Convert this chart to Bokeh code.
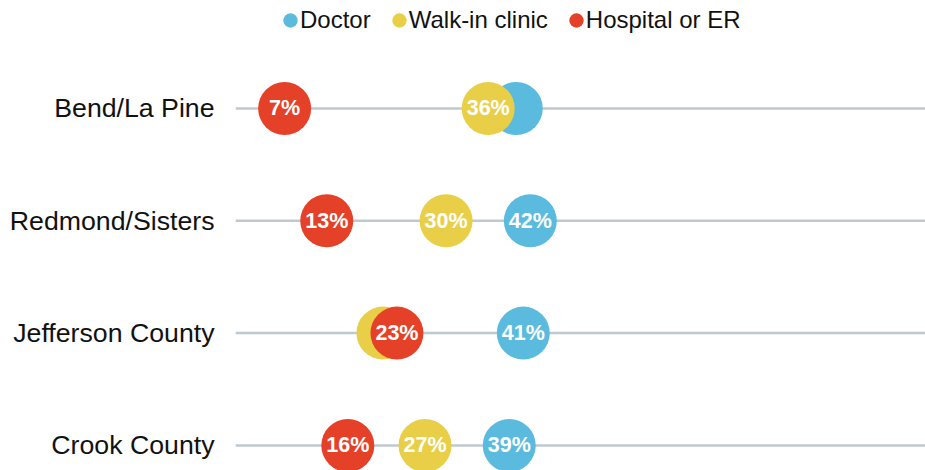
from bokeh.plotting import figure
from bokeh.models import ColumnDataSource, Range1d, FixedTicker, Legend, LegendItem
from bokeh.core.properties import value
from bokeh.embed import file_html
from bokeh.resources import INLINE

# ---- data ----
regions = ["Bend/La Pine", "Redmond/Sisters", "Jefferson County", "Crook County"]
series = ["Doctor", "Walk-in clinic", "Hospital or ER"]
doctor = [40, 42, 41, 39]
walk_in = [36, 30, 21, 27]
hospital = [7, 13, 23, 16]
# labels hidden where the dot is covered by another
doctor_show = [False, True, True, True]
walk_in_show = [True, True, False, True]
hospital_show = [True, True, True, True]
colors = ["#5BBBDE", "#E9CF48", "#E54028"]

FONT = "Liberation Sans"
rows = [len(regions) - 1 - i for i in range(len(regions))]

p = figure(width=925, height=470, output_backend="svg", toolbar_location=None,
           x_range=Range1d(0, 98.3), y_range=Range1d(-0.223, 3.961),
           x_axis_location=None, min_border_left=235, min_border_right=0,
           min_border_top=0, min_border_bottom=0)
p.outline_line_color = None
p.xgrid.visible = False
p.ygrid.visible = False
p.background_fill_color = "white"
p.border_fill_color = "white"

# y axis with region names
ax = p.yaxis[0]
ax.ticker = FixedTicker(ticks=rows)
ax.major_label_overrides = {r: name for r, name in zip(rows, regions)}
ax.axis_line_color = None
ax.major_tick_line_color = None
ax.minor_tick_line_color = None
ax.major_tick_out = 0
ax.major_tick_in = 0
ax.major_label_standoff = 21
ax.major_label_text_font = FONT
ax.major_label_text_font_size = "26.7px"
ax.major_label_text_color = "#111111"

# row lines
p.segment(x0=[0] * len(rows), y0=rows, x1=[100] * len(rows), y1=rows,
          line_color="#BFC9D1", line_width=2.5)

legend_items = []
for name, vals, show, col in zip(series, [doctor, walk_in, hospital],
                                 [doctor_show, walk_in_show, hospital_show], colors):
    src = ColumnDataSource(dict(x=vals, y=rows,
                                lbl=[f"{v}%" if s else "" for v, s in zip(vals, show)]))
    p.scatter("x", "y", source=src, size=53, fill_color=col, line_color=None)
    p.text("x", "y", text="lbl", source=src, text_align="center", text_baseline="middle",
           text_color="white", text_font=value(FONT), text_font_style="bold",
           text_font_size="21.5px")
    # legend swatch (off-screen round ellipse, only used by the legend)
    d = p.ellipse(x=[-500], y=[-500], width=14, height=14, width_units="screen",
                  height_units="screen", fill_color=col, line_color=None)
    legend_items.append(LegendItem(label=name, renderers=[d]))

legend = Legend(items=legend_items, orientation="horizontal", location=(46, 432),
                border_line_color=None, background_fill_alpha=0,
                label_text_font=FONT, label_text_font_size="24px",
                label_text_color="#111111", glyph_width=18, glyph_height=36,
                label_standoff=1, spacing=19, padding=0, margin=0)
p.add_layout(legend)

open("out.html", "w").write(file_html(p, INLINE))
